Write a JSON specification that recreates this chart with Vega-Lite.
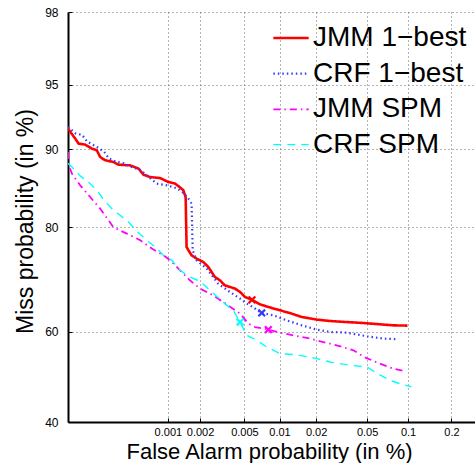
{
  "$schema": "https://vega.github.io/schema/vega-lite/v6.json",
  "autosize": {"type": "none"},
  "padding": {"left": 68, "top": 12, "right": 0, "bottom": 41},
  "width": 407,
  "height": 410,
  "background": "white",
  "config": {
    "view": {"stroke": null},
    "font": "Liberation Sans",
    "axis": {"labelColor": "black", "titleColor": "black", "titleFontWeight": "normal", "labelFont": "Liberation Sans", "titleFont": "Liberation Sans"},
    "legend": {"labelFont": "Liberation Sans"}
  },
  "datasets": {
    "curves": [
      {"s": "JMM 1−best", "fa": 0.0001, "miss": 91.89},
      {"s": "JMM 1−best", "fa": 0.000119, "miss": 91.01},
      {"s": "JMM 1−best", "fa": 0.000129, "miss": 90.54},
      {"s": "JMM 1−best", "fa": 0.000151, "miss": 90.45},
      {"s": "JMM 1−best", "fa": 0.000177, "miss": 90.06},
      {"s": "JMM 1−best", "fa": 0.000199, "miss": 89.90},
      {"s": "JMM 1−best", "fa": 0.000215, "miss": 89.21},
      {"s": "JMM 1−best", "fa": 0.000242, "miss": 88.87},
      {"s": "JMM 1−best", "fa": 0.000293, "miss": 88.68},
      {"s": "JMM 1−best", "fa": 0.000329, "miss": 88.39},
      {"s": "JMM 1−best", "fa": 0.00043, "miss": 88.31},
      {"s": "JMM 1−best", "fa": 0.000521, "miss": 87.95},
      {"s": "JMM 1−best", "fa": 0.000582, "miss": 87.25},
      {"s": "JMM 1−best", "fa": 0.000675, "miss": 86.97},
      {"s": "JMM 1−best", "fa": 0.000843, "miss": 86.85},
      {"s": "JMM 1−best", "fa": 0.00101, "miss": 86.37},
      {"s": "JMM 1−best", "fa": 0.00117, "miss": 86.17},
      {"s": "JMM 1−best", "fa": 0.0013, "miss": 85.70},
      {"s": "JMM 1−best", "fa": 0.0014, "miss": 85.33},
      {"s": "JMM 1−best", "fa": 0.00147, "miss": 84.40},
      {"s": "JMM 1−best", "fa": 0.0015, "miss": 76.77},
      {"s": "JMM 1−best", "fa": 0.00156, "miss": 76.21},
      {"s": "JMM 1−best", "fa": 0.00167, "miss": 75.32},
      {"s": "JMM 1−best", "fa": 0.00186, "miss": 74.73},
      {"s": "JMM 1−best", "fa": 0.00214, "miss": 74.12},
      {"s": "JMM 1−best", "fa": 0.00238, "miss": 73.20},
      {"s": "JMM 1−best", "fa": 0.00255, "miss": 72.27},
      {"s": "JMM 1−best", "fa": 0.00273, "miss": 71.31},
      {"s": "JMM 1−best", "fa": 0.00303, "miss": 70.68},
      {"s": "JMM 1−best", "fa": 0.00335, "miss": 69.70},
      {"s": "JMM 1−best", "fa": 0.00413, "miss": 69.05},
      {"s": "JMM 1−best", "fa": 0.00458, "miss": 68.38},
      {"s": "JMM 1−best", "fa": 0.00507, "miss": 67.35},
      {"s": "JMM 1−best", "fa": 0.00582, "miss": 66.80},
      {"s": "JMM 1−best", "fa": 0.00682, "miss": 65.87},
      {"s": "JMM 1−best", "fa": 0.00804, "miss": 65.31},
      {"s": "JMM 1−best", "fa": 0.0101, "miss": 64.63},
      {"s": "JMM 1−best", "fa": 0.0126, "miss": 63.93},
      {"s": "JMM 1−best", "fa": 0.0153, "miss": 63.21},
      {"s": "JMM 1−best", "fa": 0.0203, "miss": 62.66},
      {"s": "JMM 1−best", "fa": 0.0258, "miss": 62.36},
      {"s": "JMM 1−best", "fa": 0.0348, "miss": 62.14},
      {"s": "JMM 1−best", "fa": 0.047, "miss": 61.93},
      {"s": "JMM 1−best", "fa": 0.0624, "miss": 61.65},
      {"s": "JMM 1−best", "fa": 0.0779, "miss": 61.43},
      {"s": "JMM 1−best", "fa": 0.099, "miss": 61.37},

      {"s": "CRF 1−best", "fa": 0.0001, "miss": 92.02},
      {"s": "CRF 1−best", "fa": 0.00012, "miss": 91.48},
      {"s": "CRF 1−best", "fa": 0.000141, "miss": 91.33},
      {"s": "CRF 1−best", "fa": 0.000158, "miss": 90.74},
      {"s": "CRF 1−best", "fa": 0.000178, "miss": 90.48},
      {"s": "CRF 1−best", "fa": 0.000209, "miss": 90.09},
      {"s": "CRF 1−best", "fa": 0.000235, "miss": 89.77},
      {"s": "CRF 1−best", "fa": 0.000263, "miss": 89.08},
      {"s": "CRF 1−best", "fa": 0.000307, "miss": 88.73},
      {"s": "CRF 1−best", "fa": 0.000372, "miss": 88.54},
      {"s": "CRF 1−best", "fa": 0.000433, "miss": 88.17},
      {"s": "CRF 1−best", "fa": 0.000544, "miss": 87.79},
      {"s": "CRF 1−best", "fa": 0.000679, "miss": 86.82},
      {"s": "CRF 1−best", "fa": 0.000783, "miss": 86.17},
      {"s": "CRF 1−best", "fa": 0.000978, "miss": 85.96},
      {"s": "CRF 1−best", "fa": 0.00122, "miss": 85.58},
      {"s": "CRF 1−best", "fa": 0.00141, "miss": 84.93},
      {"s": "CRF 1−best", "fa": 0.00155, "miss": 84.27},
      {"s": "CRF 1−best", "fa": 0.00167, "miss": 83.53},
      {"s": "CRF 1−best", "fa": 0.00171, "miss": 76.21},
      {"s": "CRF 1−best", "fa": 0.00186, "miss": 74.43},
      {"s": "CRF 1−best", "fa": 0.0023, "miss": 72.90},
      {"s": "CRF 1−best", "fa": 0.00292, "miss": 70.03},
      {"s": "CRF 1−best", "fa": 0.00372, "miss": 68.38},
      {"s": "CRF 1−best", "fa": 0.00458, "miss": 67.04},
      {"s": "CRF 1−best", "fa": 0.00524, "miss": 66.02},
      {"s": "CRF 1−best", "fa": 0.0056, "miss": 65.66},
      {"s": "CRF 1−best", "fa": 0.00706, "miss": 64.06},
      {"s": "CRF 1−best", "fa": 0.00888, "miss": 63.57},
      {"s": "CRF 1−best", "fa": 0.0115, "miss": 62.51},
      {"s": "CRF 1−best", "fa": 0.0153, "miss": 61.43},
      {"s": "CRF 1−best", "fa": 0.0203, "miss": 60.51},
      {"s": "CRF 1−best", "fa": 0.0258, "miss": 59.99},
      {"s": "CRF 1−best", "fa": 0.0348, "miss": 59.86},
      {"s": "CRF 1−best", "fa": 0.05, "miss": 59.05},
      {"s": "CRF 1−best", "fa": 0.0659, "miss": 58.55},
      {"s": "CRF 1−best", "fa": 0.0847, "miss": 58.40},

      {"s": "JMM SPM", "fa": 0.0001, "miss": 89.72},
      {"s": "JMM SPM", "fa": 0.000101, "miss": 88.43},
      {"s": "JMM SPM", "fa": 0.00011, "miss": 87.37},
      {"s": "JMM SPM", "fa": 0.000134, "miss": 85.96},
      {"s": "JMM SPM", "fa": 0.00017, "miss": 84.44},
      {"s": "JMM SPM", "fa": 0.000215, "miss": 82.83},
      {"s": "JMM SPM", "fa": 0.000293, "miss": 80.02},
      {"s": "JMM SPM", "fa": 0.000399, "miss": 79.01},
      {"s": "JMM SPM", "fa": 0.000541, "miss": 77.91},
      {"s": "JMM SPM", "fa": 0.000701, "miss": 76.50},
      {"s": "JMM SPM", "fa": 0.000907, "miss": 75.32},
      {"s": "JMM SPM", "fa": 0.00105, "miss": 74.43},
      {"s": "JMM SPM", "fa": 0.0013, "miss": 72.59},
      {"s": "JMM SPM", "fa": 0.00161, "miss": 70.68},
      {"s": "JMM SPM", "fa": 0.002, "miss": 69.05},
      {"s": "JMM SPM", "fa": 0.00263, "miss": 67.71},
      {"s": "JMM SPM", "fa": 0.00324, "miss": 66.35},
      {"s": "JMM SPM", "fa": 0.00458, "miss": 63.93},
      {"s": "JMM SPM", "fa": 0.00541, "miss": 61.80},
      {"s": "JMM SPM", "fa": 0.00618, "miss": 61.07},
      {"s": "JMM SPM", "fa": 0.00804, "miss": 60.51},
      {"s": "JMM SPM", "fa": 0.0101, "miss": 59.86},
      {"s": "JMM SPM", "fa": 0.013, "miss": 59.27},
      {"s": "JMM SPM", "fa": 0.0179, "miss": 58.55},
      {"s": "JMM SPM", "fa": 0.0228, "miss": 57.80},
      {"s": "JMM SPM", "fa": 0.0291, "miss": 57.08},
      {"s": "JMM SPM", "fa": 0.0393, "miss": 55.97},
      {"s": "JMM SPM", "fa": 0.0485, "miss": 54.34},
      {"s": "JMM SPM", "fa": 0.0607, "miss": 53.14},
      {"s": "JMM SPM", "fa": 0.0779, "miss": 51.88},
      {"s": "JMM SPM", "fa": 0.092, "miss": 51.39},

      {"s": "CRF SPM", "fa": 0.0001, "miss": 88.54},
      {"s": "CRF SPM", "fa": 0.00011, "miss": 88.13},
      {"s": "CRF SPM", "fa": 0.000134, "miss": 87.11},
      {"s": "CRF SPM", "fa": 0.00017, "miss": 86.17},
      {"s": "CRF SPM", "fa": 0.000201, "miss": 85.26},
      {"s": "CRF SPM", "fa": 0.000232, "miss": 84.13},
      {"s": "CRF SPM", "fa": 0.000282, "miss": 82.83},
      {"s": "CRF SPM", "fa": 0.000342, "miss": 81.85},
      {"s": "CRF SPM", "fa": 0.000414, "miss": 80.84},
      {"s": "CRF SPM", "fa": 0.000502, "miss": 79.39},
      {"s": "CRF SPM", "fa": 0.000627, "miss": 77.91},
      {"s": "CRF SPM", "fa": 0.000754, "miss": 76.77},
      {"s": "CRF SPM", "fa": 0.000907, "miss": 75.32},
      {"s": "CRF SPM", "fa": 0.00109, "miss": 74.43},
      {"s": "CRF SPM", "fa": 0.0013, "miss": 72.59},
      {"s": "CRF SPM", "fa": 0.00161, "miss": 71.31},
      {"s": "CRF SPM", "fa": 0.002, "miss": 70.48},
      {"s": "CRF SPM", "fa": 0.00246, "miss": 68.72},
      {"s": "CRF SPM", "fa": 0.00335, "miss": 66.02},
      {"s": "CRF SPM", "fa": 0.00398, "miss": 64.63},
      {"s": "CRF SPM", "fa": 0.00458, "miss": 62.14},
      {"s": "CRF SPM", "fa": 0.00524, "miss": 59.27},
      {"s": "CRF SPM", "fa": 0.00639, "miss": 58.18},
      {"s": "CRF SPM", "fa": 0.00779, "miss": 56.70},
      {"s": "CRF SPM", "fa": 0.0101, "miss": 55.23},
      {"s": "CRF SPM", "fa": 0.0139, "miss": 54.97},
      {"s": "CRF SPM", "fa": 0.0203, "miss": 54.12},
      {"s": "CRF SPM", "fa": 0.0258, "miss": 53.36},
      {"s": "CRF SPM", "fa": 0.037, "miss": 52.62},
      {"s": "CRF SPM", "fa": 0.05, "miss": 52.24},
      {"s": "CRF SPM", "fa": 0.0591, "miss": 50.83},
      {"s": "CRF SPM", "fa": 0.0737, "miss": 49.26},
      {"s": "CRF SPM", "fa": 0.0871, "miss": 48.52},
      {"s": "CRF SPM", "fa": 0.1056, "miss": 47.80}
    ],
    "marks": [
      {"s": "JMM 1−best", "fa": 0.00582, "miss": 66.80},
      {"s": "CRF 1−best", "fa": 0.00706, "miss": 64.06},
      {"s": "JMM SPM", "fa": 0.00804, "miss": 60.51},
      {"s": "CRF SPM", "fa": 0.00458, "miss": 62.14}
    ]
  },
  "layer": [
    {
      "data": {"name": "curves"},
      "transform": [
        {"calculate": "quantileNormal(datum.fa / 100)", "as": "fa_z"},
        {"calculate": "quantileNormal(datum.miss / 100)", "as": "miss_z"}
      ],
      "mark": {"type": "line", "clip": true, "strokeCap": "butt", "strokeJoin": "round"},
      "encoding": {
        "x": {
          "field": "fa_z", "type": "quantitative",
          "scale": {"domain": [-4.753424, -2.7629], "nice": false, "zero": false},
          "axis": {
            "values": [-4.264891, -4.107479, -3.890592, -3.719016, -3.540084, -3.290527, -3.090232, -2.878162],
            "labelExpr": "format(cumulativeNormal(datum.value) * 100, '.1~r')",
            "labelFontSize": 11, "labelPadding": 8, "labelFlush": false, "labelOverlap": false,
            "ticks": true, "tickSize": -4, "tickColor": "black", "tickWidth": 1,
            "grid": true, "gridColor": "#666666", "gridDash": [1, 3], "gridWidth": 1,
            "domainColor": "black", "domainWidth": 2,
            "title": "False Alarm probability (in %)", "titleFontSize": 22,
            "titleX": 201, "titleY": 36.3, "titleBaseline": "alphabetic", "titleAlign": "center"
          }
        },
        "y": {
          "field": "miss_z", "type": "quantitative",
          "scale": {"domain": [-0.253347, 2.053749], "nice": false, "zero": false},
          "axis": {
            "values": [-0.253347, 0.253347, 0.841621, 1.281552, 1.644854, 2.053749],
            "labelExpr": "format(cumulativeNormal(datum.value) * 100, '.0f')",
            "labelFontSize": 12, "labelPadding": 14, "labelFlush": false, "labelOverlap": false,
            "ticks": true, "tickSize": -4, "tickColor": "black", "tickWidth": 1,
            "grid": true, "gridColor": "#666666", "gridDash": [1, 3], "gridWidth": 1,
            "domainColor": "black", "domainWidth": 2,
            "title": "Miss probability (in %)", "titleFontSize": 23,
            "titleX": -43, "titleY": 209, "titleAngle": -90, "titleBaseline": "middle", "titleAlign": "center"
          }
        },
        "color": {
          "field": "s", "type": "nominal",
          "scale": {"domain": ["JMM 1−best", "CRF 1−best", "JMM SPM", "CRF SPM"], "range": ["#ff0000", "#3a3aff", "#ff00ff", "#00ffff"]},
          "legend": {
            "orient": "none", "legendX": 204, "legendY": 7, "title": null, "padding": 0,
            "symbolType": "stroke", "symbolSize": 1250, "symbolStrokeWidth": 2.5,
            "labelFontSize": 28, "labelColor": "black", "labelOffset": 3, "rowPadding": 2.7, "labelLimit": 300
          }
        },
        "strokeDash": {
          "field": "s", "type": "nominal",
          "scale": {"domain": ["JMM 1−best", "CRF 1−best", "JMM SPM", "CRF SPM"], "range": [[1, 0], [1.5, 3], [7, 4, 1.5, 4], [8, 6]]},
          "legend": {
            "orient": "none", "legendX": 204, "legendY": 7, "title": null, "padding": 0,
            "symbolType": "stroke", "symbolSize": 1250, "symbolStrokeWidth": 2.5,
            "labelFontSize": 28, "labelColor": "black", "labelOffset": 3, "rowPadding": 2.7, "labelLimit": 300
          }
        },
        "strokeWidth": {
          "field": "s", "type": "nominal",
          "scale": {"domain": ["JMM 1−best", "CRF 1−best", "JMM SPM", "CRF SPM"], "range": [2.6, 1.4, 2.6, 2.6]},
          "legend": null
        }
      }
    },
    {
      "data": {"name": "marks"},
      "transform": [
        {"calculate": "quantileNormal(datum.fa / 100)", "as": "fa_z"},
        {"calculate": "quantileNormal(datum.miss / 100)", "as": "miss_z"}
      ],
      "mark": {"type": "point", "shape": "M-1,-1L1,1M1,-1L-1,1", "filled": false, "size": 45, "strokeWidth": 2.2, "opacity": 1},
      "encoding": {
        "x": {"field": "fa_z", "type": "quantitative"},
        "y": {"field": "miss_z", "type": "quantitative"},
        "color": {"field": "s", "type": "nominal", "legend": null}
      }
    },
    {
      "mark": {"type": "rule", "color": "black", "strokeWidth": 2},
      "encoding": {"y": {"datum": 2.053749, "type": "quantitative"}}
    }
  ]
}
